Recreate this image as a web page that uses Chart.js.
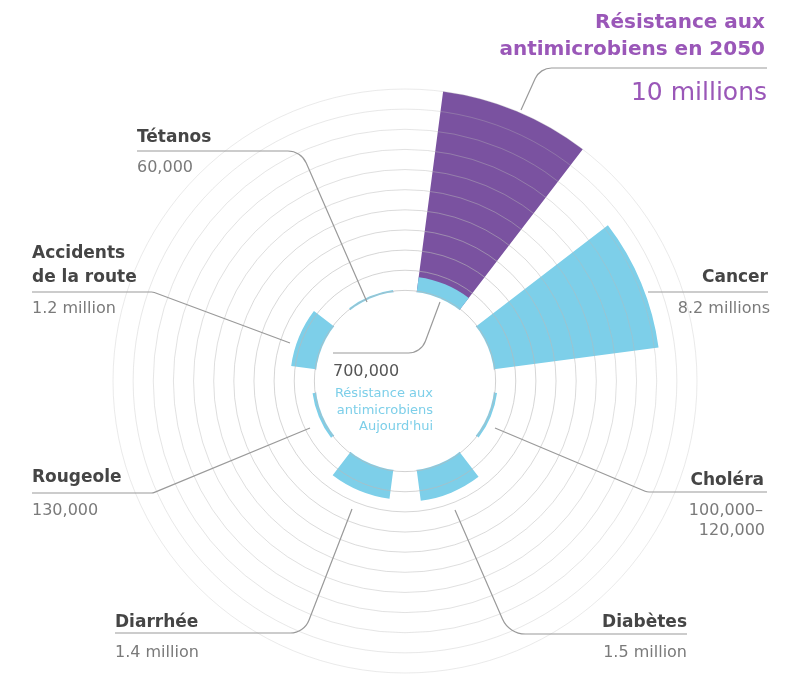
<!DOCTYPE html>
<html>
<head>
<meta charset="utf-8">
<script src="https://cdn.jsdelivr.net/npm/chart.js@4.4.1/dist/chart.umd.min.js"></script>
<style>
  html, body { margin: 0; padding: 0; background: #fff; overflow: hidden; }
  #wrap { width: 787px; height: 674px; position: relative; }
</style>
</head>
<body>
<div id="wrap"><canvas id="chart"></canvas></div>
<script>
// deaths per year, in millions
const categories = ['Résistance aux antimicrobiens', 'Cancer', 'Choléra', 'Diabètes', 'Diarrhée', 'Rougeole', 'Accidents de la route', 'Tétanos'];
const deathsToday = [0.7, 8.2, 0.11, 1.5, 1.4, 0.13, 1.2, 0.06];
const deaths2050 = [10, 0, 0, 0, 0, 0, 0, 0];
const ringTicks = [0, 1, 2, 3, 4, 5, 6, 7, 8, 9, 10];

const BLUE = '#7dcfe9';
const PURPLE = '#7a52a0';
const TEXT_PURPLE = '#9a57b8';

// every sector is followed by an empty gap element
const withGaps = arr => arr.flatMap(v => [v, 0]);
const labels = categories.flatMap(c => [c, '']);

// leader lines + texts (annotation only)
const annot = {
  id: 'annot',
  afterDraw(chart) {
    const ctx = chart.ctx;
    const r = chart.scales.r;
    const cx = r.xCenter, cy = r.yCenter;
    const r0 = r.getDistanceFromCenterForValue(0);

    // white hole in the middle
    ctx.save();
    ctx.fillStyle = '#fff';
    ctx.beginPath();
    ctx.arc(cx, cy, r0 - 1, 0, Math.PI * 2);
    ctx.fill();

    // leader lines
    ctx.strokeStyle = '#9a9a9a';
    ctx.lineWidth = 1.2;
    const leader = (pts, rad) => {
      ctx.beginPath();
      ctx.moveTo(pts[0][0], pts[0][1]);
      for (let i = 1; i < pts.length - 1; i++) {
        ctx.arcTo(pts[i][0], pts[i][1], pts[i + 1][0], pts[i + 1][1], rad);
      }
      const l = pts[pts.length - 1];
      ctx.lineTo(l[0], l[1]);
      ctx.stroke();
    };
    leader([[767, 68], [540, 68], [521, 110]], 18);
    leader([[648, 292], [768, 292]], 0);
    leader([[767, 492], [647, 492], [495, 428]], 10);
    leader([[687, 634], [509, 634], [455, 510]], 25);
    leader([[115, 633], [304, 633], [352, 509]], 20);
    leader([[32, 493], [153, 493], [310, 428]], 8);
    leader([[32, 292], [153, 292], [290, 343]], 8);
    leader([[137, 151], [301, 151], [367, 302]], 20);
    leader([[333, 353], [421, 353], [440, 302]], 18);

    const txt = (s, x, y, font, color, align) => {
      ctx.font = font;
      ctx.fillStyle = color;
      ctx.textAlign = align || 'left';
      ctx.textBaseline = 'alphabetic';
      ctx.fillText(s, x, y);
    };
    const bold = 'bold 17px "DejaVu Sans"';
    const val = '16px "DejaVu Sans"';
    const dark = '#454545', grey = '#7a7a7a';

    txt('Résistance aux', 765, 28, 'bold 20px "DejaVu Sans"', TEXT_PURPLE, 'right');
    txt('antimicrobiens en 2050', 765, 55, 'bold 20px "DejaVu Sans"', TEXT_PURPLE, 'right');
    txt('10 millions', 767, 100, '25px "DejaVu Sans"', TEXT_PURPLE, 'right');

    txt('Cancer', 768, 282, bold, dark, 'right');
    txt('8.2 millions', 770, 313, val, grey, 'right');

    txt('Choléra', 764, 485, bold, dark, 'right');
    txt('100,000–', 763, 515, val, grey, 'right');
    txt('120,000', 765, 535, val, grey, 'right');

    txt('Diabètes', 687, 627, bold, dark, 'right');
    txt('1.5 million', 687, 657, val, grey, 'right');

    txt('Diarrhée', 115, 627, bold, dark);
    txt('1.4 million', 115, 657, val, grey);

    txt('Rougeole', 32, 482, bold, dark);
    txt('130,000', 32, 515, val, grey);

    txt('Accidents', 32, 258, bold, dark);
    txt('de la route', 32, 282, bold, dark);
    txt('1.2 million', 32, 313, val, grey);

    txt('Tétanos', 137, 142, bold, dark);
    txt('60,000', 137, 172, val, grey);

    txt('700,000', 333, 376, '16px "DejaVu Sans"', '#555', 'left');
    const small = '13px "DejaVu Sans"';
    txt('Résistance aux', 433, 397, small, BLUE, 'right');
    txt('antimicrobiens', 433, 414, small, BLUE, 'right');
    txt("Aujourd'hui", 433, 430, small, BLUE, 'right');
    ctx.restore();
  }
};

new Chart(document.getElementById('chart'), {
  type: 'polarArea',
  data: {
    labels: labels,
    datasets: [
      {
        label: "Aujourd'hui",
        data: withGaps(deathsToday),
        backgroundColor: labels.map((l, i) => i % 2 ? 'rgba(0,0,0,0)' : BLUE),
        borderWidth: 0,
        angle: c => (c.dataIndex % 2 ? 15 : 30),
        clip: false
      },
      {
        label: '2050',
        data: withGaps(deaths2050),
        backgroundColor: labels.map((l, i) => i % 2 ? 'rgba(0,0,0,0)' : PURPLE),
        borderWidth: 0,
        angle: c => (c.dataIndex % 2 ? 15 : 30),
        clip: false
      }
    ]
  },
  options: {
    responsive: true,
    maintainAspectRatio: false,
    animation: false,
    layout: { padding: { left: 105, right: 82, top: 89, bottom: -15 } },
    plugins: { legend: { display: false }, tooltip: { enabled: false } },
    scales: {
      r: {
        min: -4.5,
        max: 10,
        startAngle: 7.5,
        ticks: { display: false, stepSize: 1 },
        angleLines: { display: false },
        pointLabels: { display: false },
        grid: {
          z: 1,
          circular: true,
          lineWidth: 1,
          color: c => {
            const v = c.tick.value;
            if (!ringTicks.includes(v)) return 'rgba(0,0,0,0)';
            const a = 0.65 - v * 0.035;
            return 'rgba(185,185,185,' + a.toFixed(2) + ')';
          }
        }
      }
    }
  },
  plugins: [annot]
});
</script>
</body>
</html>
